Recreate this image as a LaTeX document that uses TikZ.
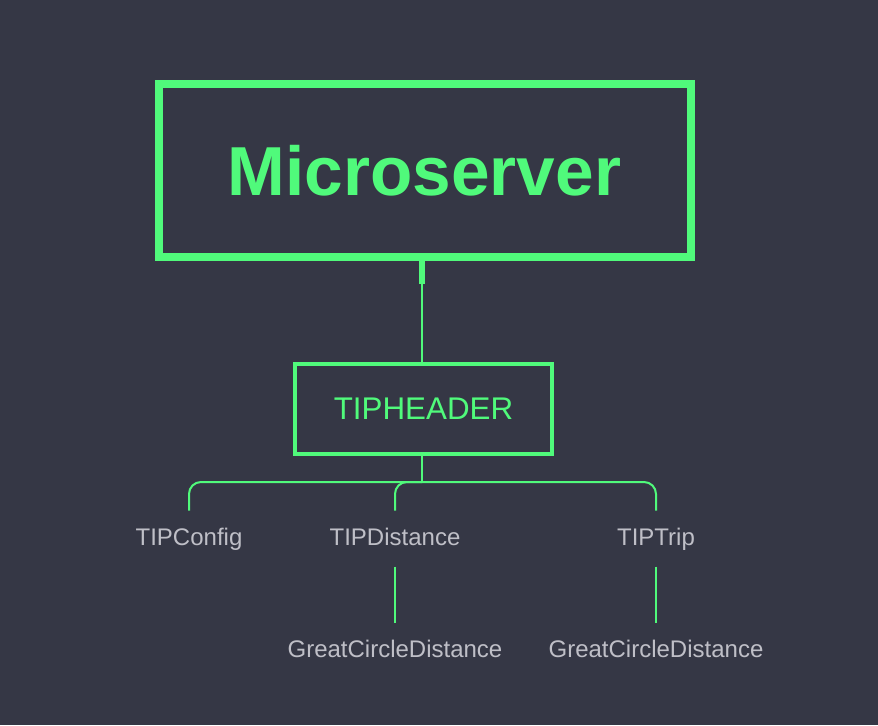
\documentclass[tikz,border=0pt]{standalone}
\usepackage{fontspec}
\setmainfont{Liberation Sans}
\usetikzlibrary{positioning, calc}
\definecolor{slate}{HTML}{353745}
\definecolor{neon}{HTML}{50FA7B}
\definecolor{ltgray}{HTML}{BFBFC7}

\begin{document}
\begin{tikzpicture}[x=0.75pt, y=-0.75pt,
  leaf/.style={text=ltgray, font=\fontsize{18}{18}\selectfont, anchor=base,
    text height=13.5pt, text depth=4pt, inner xsep=2pt, inner ysep=12pt},
  twig/.style={neon, line width=1.5pt}]

% Background
\fill[slate] (0,0) rectangle (878,725);
\useasboundingbox (0,0) rectangle (878,725);

% === Top box ===
\node[draw=neon, line width=6pt, inner sep=0pt, minimum width=399pt, minimum height=129.75pt,
  text=neon, font=\fontsize{52}{52}\selectfont\bfseries] (server) at (424.5,170.5) {Microserver};

% Stub under the top box
\coordinate (stub) at (422,284);
\draw[neon, line width=4.5pt] (server.south -| stub) -- (stub);

% === Header box ===
\node[draw=neon, line width=3pt, inner sep=0pt, minimum width=192.75pt, minimum height=67.5pt,
  text=neon, font=\fontsize{23.5}{23.5}\selectfont] (header) at (423.5,409) {TIPHEADER};
\draw[twig] (stub) -- (stub |- header.north);

% === Children ===
\coordinate (fork) at (422,482);
\node[leaf] (config) at (189,545) {TIPConfig};
\node[leaf] (distance) at (395,545) {TIPDistance};
\node[leaf] (trip) at (656,545) {TIPTrip};

\draw[twig] (header.south -| fork) -- (fork);
\draw[twig, rounded corners=9pt] (fork) -| (config.north);
\draw[twig, rounded corners=9pt] (fork) -| (distance.north);
\draw[twig, rounded corners=9pt] (fork) -| (trip.north);

% === Grandchildren ===
\node[leaf] (gcdA) at (395,657) {GreatCircleDistance};
\node[leaf] (gcdB) at (656,657) {GreatCircleDistance};

\draw[twig] (distance.south) -- (gcdA.north);
\draw[twig] (trip.south) -- (gcdB.north);

\end{tikzpicture}
\end{document}
